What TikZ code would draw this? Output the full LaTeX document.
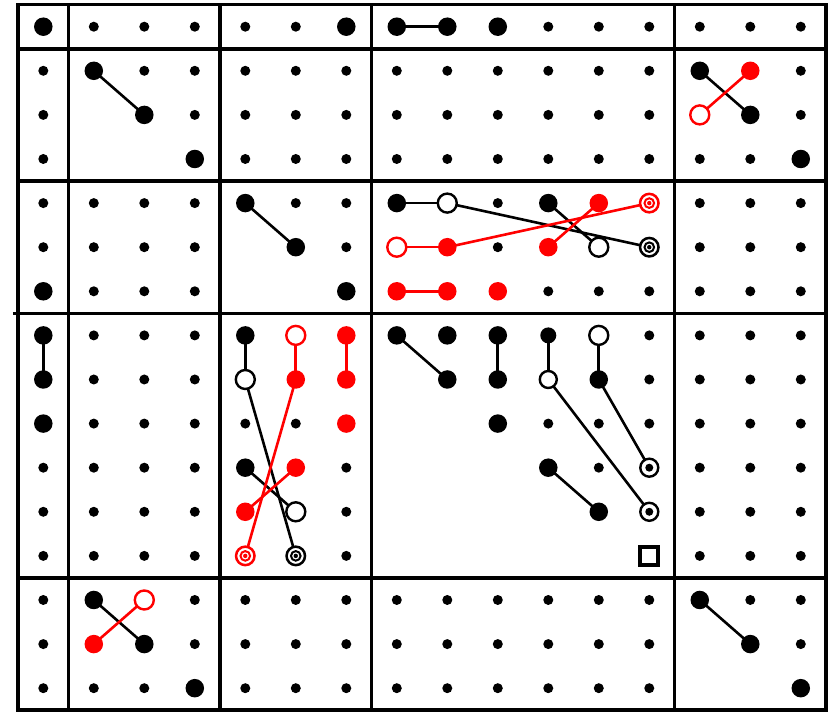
\documentclass[tikz,border=0pt]{standalone}
\usetikzlibrary{backgrounds}
\pgfdeclarelayer{bg}
\pgfsetlayers{bg,main}
\tikzset{
  mk/.style={circle, inner sep=0pt, outer sep=0pt},
  sm/.style={mk, fill=black, minimum size=10pt},
  lg/.style={mk, fill=#1, minimum size=18.5pt},
  lg/.default=black,
  lgs/.style={mk, fill=black, minimum size=16pt},
  op/.style={mk, draw=#1, fill=white, line width=2.4pt, minimum size=19pt},
  op/.default=black,
  ops/.style={mk, draw=black, fill=white, line width=2.4pt, minimum size=17pt},
  tg/.style={mk, draw=#1, fill=white, line width=2.5pt, minimum size=18.5pt,
    path picture={\draw[#1, line width=2pt] (path picture bounding box.center) circle (4.8pt);
                  \fill[#1] (path picture bounding box.center) circle (2.2pt);}},
  tg/.default=black,
  cd/.style={mk, draw=black, fill=white, line width=2.4pt, minimum size=18pt,
    path picture={\fill[black] (path picture bounding box.center) circle (4pt);}},
  sq/.style={rectangle, inner sep=0pt, draw=black, fill=white, line width=4pt, minimum size=18pt},
  conn/.style={line width=2.6pt, draw=#1},
  conn/.default=black,
  gridln/.style={line width=3.6pt, draw=black}
}
\begin{document}
\begin{tikzpicture}[x=50.5pt, y=-44.1pt]
\useasboundingbox (-0.8574,-0.6054) rectangle (15.638,15.540);

% ---------- small dots ----------
% row 0
\foreach \i in {1,2,3,4,5,10,11,12,13,14,15} \node[sm] (n-\i-0) at (\i,0) {};
% rows 1-3
\foreach \j in {1,2,3} \node[sm] (n-0-\j) at (0,\j) {};
\foreach \i/\j in {2/1,3/1,3/2} \node[sm] (n-\i-\j) at (\i,\j) {};
\foreach \i in {4,...,12} \foreach \j in {1,2,3} \node[sm] (n-\i-\j) at (\i,\j) {};
\foreach \i/\j in {15/1,15/2,13/3,14/3} \node[sm] (n-\i-\j) at (\i,\j) {};
% rows 4-6
\foreach \j in {4,5} \node[sm] (n-0-\j) at (0,\j) {};
\foreach \i in {1,2,3} \foreach \j in {4,5,6} \node[sm] (n-\i-\j) at (\i,\j) {};
\foreach \i/\j in {5/4,6/4,6/5} \node[sm] (n-\i-\j) at (\i,\j) {};
\foreach \i/\j in {9/4,9/5,10/6,11/6,12/6} \node[sm] (n-\i-\j) at (\i,\j) {};
\foreach \i in {13,14,15} \foreach \j in {4,5,6} \node[sm] (n-\i-\j) at (\i,\j) {};
% rows 7-12
\foreach \j in {10,11,12} \node[sm] (n-0-\j) at (0,\j) {};
\foreach \i in {1,2,3} \foreach \j in {7,...,12} \node[sm] (n-\i-\j) at (\i,\j) {};
\foreach \i/\j in {4/9,5/9,6/10,6/11,6/12} \node[sm] (n-\i-\j) at (\i,\j) {};
\foreach \i/\j in {12/7,12/8,10/9,11/9,12/9,11/10} \node[sm] (n-\i-\j) at (\i,\j) {};
\foreach \i in {13,14,15} \foreach \j in {7,...,12} \node[sm] (n-\i-\j) at (\i,\j) {};
% rows 13-15
\foreach \j in {13,14,15} \node[sm] (n-0-\j) at (0,\j) {};
\foreach \i/\j in {3/13,3/14,1/15,2/15} \node[sm] (n-\i-\j) at (\i,\j) {};
\foreach \i in {4,...,12} \foreach \j in {13,14,15} \node[sm] (n-\i-\j) at (\i,\j) {};
\foreach \i/\j in {14/13,15/13,15/14} \node[sm] (n-\i-\j) at (\i,\j) {};

% ---------- large black dots ----------
\foreach \i/\j in {0/0,6/0,7/0,8/0,9/0,
  1/1,2/2,3/3,13/1,14/2,15/3,
  0/6,4/4,5/5,6/6,7/4,10/4,
  0/7,0/8,0/9,4/7,4/10,
  7/7,8/7,9/7,8/8,9/8,11/8,9/9,10/10,11/11,
  1/13,2/14,3/15,13/13,14/14,15/15}
  \node[lg] (n-\i-\j) at (\i,\j) {};
\node[lgs] (n-10-7) at (10,7) {};

% ---------- large red dots ----------
\foreach \i/\j in {14/1,11/4,8/5,10/5,7/6,8/6,9/6,
  6/7,5/8,6/8,6/9,5/10,4/11,1/14}
  \node[lg=red] (n-\i-\j) at (\i,\j) {};

% ---------- open circles ----------
\foreach \i/\j in {8/4,11/5,4/8,5/11,11/7}
  \node[op] (n-\i-\j) at (\i,\j) {};
\node[ops] (n-10-8) at (10,8) {};
\foreach \i/\j in {13/2,7/5,5/7,2/13}
  \node[op=red] (n-\i-\j) at (\i,\j) {};

% ---------- targets, circle-dots, square ----------
\node[tg=red] (n-12-4) at (12,4) {};
\node[tg] (n-12-5) at (12,5) {};
\node[tg=red] (n-4-12) at (4,12) {};
\node[tg] (n-5-12) at (5,12) {};
\node[cd] (n-12-10) at (12,10) {};
\node[cd] (n-12-11) at (12,11) {};
\node[sq] (n-12-12) at (12,12) {};

\begin{pgfonlayer}{bg}
% grid
\draw[gridln] (-0.5,-0.5) rectangle (15.5,15.5);
\foreach \v in {0.5,3.5,6.5,12.5} {
  \draw[gridln] (\v,-0.5) -- (\v,15.5);
  \draw[gridln] (-0.5,\v) -- (15.5,\v);
}
\draw[gridln] (-0.6,6.5) -- (-0.5,6.5);
% black connectors
\foreach \a/\b in {7-0/8-0, 1-1/2-2, 13-1/14-2, 4-4/5-5, 7-4/8-4, 8-4/12-5, 10-4/11-5,
  0-7/0-8, 4-7/4-8, 4-8/5-12, 4-10/5-11,
  7-7/8-8, 9-7/9-8, 10-7/10-8, 11-7/11-8, 10-8/12-11, 11-8/12-10, 10-10/11-11,
  1-13/2-14, 13-13/14-14}
  \draw[conn] (n-\a.center) -- (n-\b.center);
% red connectors
\foreach \a/\b in {14-1/13-2, 7-5/8-5, 8-5/12-4, 10-5/11-4, 7-6/8-6,
  5-7/5-8, 6-7/6-8, 5-8/4-12, 5-10/4-11, 2-13/1-14}
  \draw[conn=red] (n-\a.center) -- (n-\b.center);
\end{pgfonlayer}
\end{tikzpicture}
\end{document}
